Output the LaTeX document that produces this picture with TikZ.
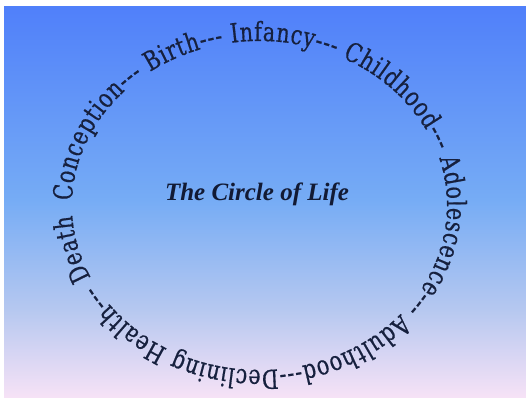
\documentclass[tikz,border=0pt]{standalone}
\usepackage{fontspec}
\setmainfont{Liberation Serif}
\newfontfamily\ringface[FakeStretch=0.78,FakeBold=0.5]{DejaVu Serif}
\usetikzlibrary{decorations.text}
\definecolor{bgtop}{RGB}{80,128,250}
\definecolor{bgmid}{RGB}{118,172,245}
\definecolor{bglow}{RGB}{182,200,240}
\definecolor{bgbot}{RGB}{246,226,246}
\definecolor{ringtext}{RGB}{22,32,62}
\definecolor{titletext}{RGB}{18,26,52}
\tikzset{
  titlestyle/.style={font=\fontsize{25pt}{30pt}\selectfont\bfseries\itshape, text=titletext, inner sep=0pt}
}
\begin{document}
\begin{tikzpicture}[x=1pt,y=1pt]
  \useasboundingbox[fill=white] (0,0) rectangle (526,397);
  \shade[top color=bgtop, bottom color=bgmid] (4,197) rectangle (526,390);
  \shade[top color=bgmid, bottom color=bglow] (4,87) rectangle (526,197.2);
  \shade[top color=bglow, bottom color=bgbot] (4,0) rectangle (526,87.2);
  \coordinate (c) at (259.5,191.5);
  \path[decorate, decoration={text along path,
      text={|\ringface\fontsize{26.5pt}{31pt}\selectfont|Death{\ \ }Conception--- Birth--- Infancy--- Childhood--- Adolescence--- Adulthood---Declining Health---},
      text color=ringtext, text align=fit to path}]
    (c) ++(206:187.5pt and 164.5pt)
    arc[start angle=206, end angle=-151, x radius=187.5pt, y radius=164.5pt];
  \node[titlestyle] (title) at (257,203) {The Circle of Life};
\end{tikzpicture}
\end{document}
